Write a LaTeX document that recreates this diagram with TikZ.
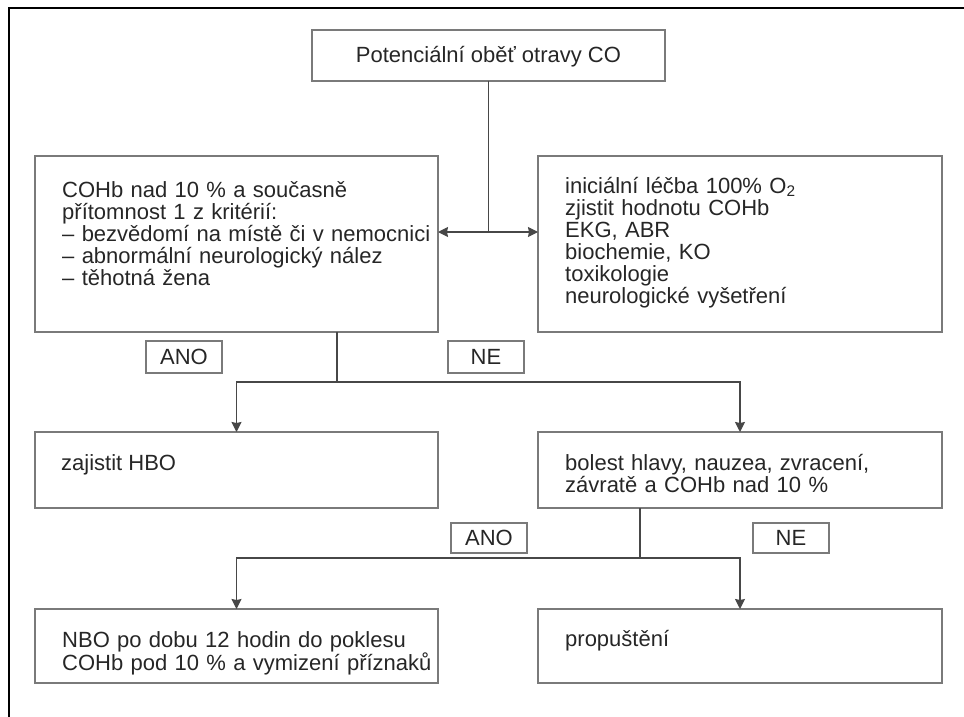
\documentclass[tikz,border=0pt]{standalone}
\usepackage{fontspec}
\setmainfont{Liberation Sans}
\usetikzlibrary{arrows.meta}
\definecolor{boxgray}{HTML}{7A7A7A}
\definecolor{linegray}{HTML}{474747}
\definecolor{txt}{HTML}{262626}
\begin{document}
\begin{tikzpicture}[x=1pt,y=-1pt,
  box/.style={draw=boxgray, line width=1.4pt, rectangle, anchor=north west, inner sep=0pt, outer sep=0pt},
  lbl/.style={text=txt, font=\fontsize{22}{22}\selectfont, inner sep=0pt},
  blk/.style={lbl, align=left, text width=390pt, anchor=base west},
  conn/.style={draw=linegray, line width=1.2pt},
  arr/.style={conn, -{Stealth[length=10pt,width=10pt,inset=1pt]}},
  darr/.style={conn, {Stealth[length=10pt,width=10pt,inset=1pt]}-{Stealth[length=10pt,width=10pt,inset=1pt]}}]
\useasboundingbox (0,0) rectangle (964,717);
% outer frame (left and top edges)
\draw[line width=2.2pt, black] (9,717) -- (9,8) -- (964,8);

% boxes
\node[box, minimum width=353pt, minimum height=51pt] (top) at (312,30) {};
\node[box, minimum width=403pt, minimum height=176pt] (l1) at (35,156) {};
\node[box, minimum width=404pt, minimum height=176pt] (r1) at (538,156) {};
\node[box, minimum width=76pt, minimum height=32pt] (ano1) at (146,341) {};
\node[box, minimum width=76pt, minimum height=32pt] (ne1) at (448,341) {};
\node[box, minimum width=403pt, minimum height=76pt] (hbo) at (35,432) {};
\node[box, minimum width=404pt, minimum height=76pt] (bol) at (538,432) {};
\node[box, minimum width=76pt, minimum height=30pt] (ano2) at (451,523) {};
\node[box, minimum width=76pt, minimum height=30pt] (ne2) at (753,523) {};
\node[box, minimum width=403pt, minimum height=74pt] (nbo) at (35,609) {};
\node[box, minimum width=404pt, minimum height=74pt] (prop) at (538,609) {};

% texts
\node[lbl, anchor=base] (topt) at (488.5,63) {Potenciální oběť otravy CO};
\node[blk] (l1t) at (62,197) {COHb nad 10 \% a současně\\přítomnost 1 z kritérií:\\– bezvědomí na místě či v nemocnici\\– abnormální neurologický nález\\– těhotná žena};
\node[blk] (r1t) at (565,193) {iniciální léčba 100\% O\textsubscript{2}\\zjistit hodnotu COHb\\EKG, ABR\\biochemie, KO\\toxikologie\\neurologické vyšetření};
\node[lbl, anchor=base] (ano1t) at (ano1.center |- 0,364.5) {ANO};
\node[lbl, anchor=base] (ne1t) at (ne1.center |- 0,364.5) {NE};
\node[lbl, anchor=base west] (hbot) at (61,470) {zajistit HBO};
\node[blk] (bolt) at (565,470) {bolest hlavy, nauzea, zvracení,\\závratě a COHb nad 10 \%};
\node[lbl, anchor=base] (ano2t) at (ano2.center |- 0,545.5) {ANO};
\node[lbl, anchor=base] (ne2t) at (ne2.center |- 0,545.5) {NE};
\node[blk] (nbot) at (62,647) {NBO po dobu 12 hodin do poklesu\\COHb pod 10 \% a vymizení příznaků};
\node[lbl, anchor=base west] (propt) at (565,646) {propuštění};

% connectors
\coordinate (j1) at (top.south |- 0,232);
\draw[conn] (top.south) -- (j1);
\draw[darr] (l1.east |- j1) -- (r1.west |- j1);

\coordinate (j2) at (337,382);
\draw[conn] (l1.south -| j2) -- (j2);
\draw[arr] (j2) -| (hbo.north);
\draw[arr] (j2) -| (bol.north);

\coordinate (j3) at (640,558);
\draw[conn] (bol.south -| j3) -- (j3);
\draw[arr] (j3) -| (nbo.north);
\draw[arr] (j3) -| (prop.north);
\end{tikzpicture}
\end{document}
